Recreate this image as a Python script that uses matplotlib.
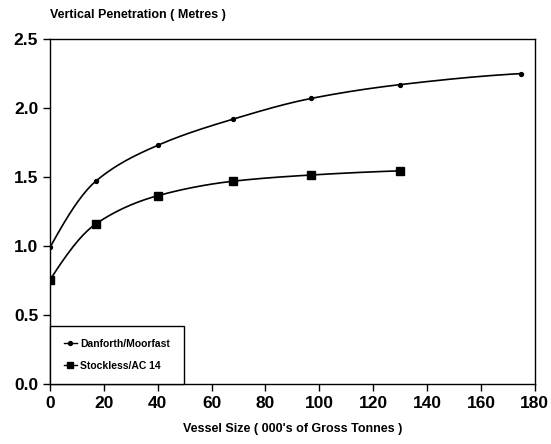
import numpy as np
import matplotlib
matplotlib.use("Agg")
import matplotlib.pyplot as plt

plt.rcParams['font.family'] = ['Liberation Sans', 'DejaVu Sans']
plt.rcParams['font.weight'] = 'bold'

# Données
taille_danforth = [0, 17, 40, 68, 97, 130, 175]
penetration_danforth = [0.99, 1.47, 1.73, 1.92, 2.07, 2.17, 2.25]

taille_stockless = [0, 17, 40, 68, 97, 130]
penetration_stockless = [0.755, 1.16, 1.365, 1.47, 1.515, 1.545]

x_ticks = [0, 20, 40, 60, 80, 100, 120, 140, 160, 180]
y_ticks = [0.0, 0.5, 1.0, 1.5, 2.0, 2.5]


def courbe_lisse(x, y, n=200):
    """Tracé lissé (PCHIP) entre les points mesurés, pour le rendu seulement."""
    x = np.asarray(x, float)
    y = np.asarray(y, float)
    h = np.diff(x)
    d = np.diff(y) / h
    m = np.zeros_like(y)
    for k in range(1, len(x) - 1):
        if d[k - 1] * d[k] > 0:
            w1 = 2 * h[k] + h[k - 1]
            w2 = h[k] + 2 * h[k - 1]
            m[k] = (w1 + w2) / (w1 / d[k - 1] + w2 / d[k])
    m[0] = ((2 * h[0] + h[1]) * d[0] - h[0] * d[1]) / (h[0] + h[1])
    if m[0] * d[0] <= 0:
        m[0] = 0
    elif abs(m[0]) > 3 * abs(d[0]):
        m[0] = 3 * d[0]
    m[-1] = ((2 * h[-1] + h[-2]) * d[-1] - h[-1] * d[-2]) / (h[-1] + h[-2])
    if m[-1] * d[-1] <= 0:
        m[-1] = 0
    xs = np.linspace(x[0], x[-1], n)
    idx = np.clip(np.searchsorted(x, xs) - 1, 0, len(x) - 2)
    t = (xs - x[idx]) / h[idx]
    h00 = 2 * t**3 - 3 * t**2 + 1
    h10 = t**3 - 2 * t**2 + t
    h01 = -2 * t**3 + 3 * t**2
    h11 = t**3 - t**2
    ys = h00 * y[idx] + h10 * h[idx] * m[idx] + h01 * y[idx + 1] + h11 * h[idx] * m[idx + 1]
    return xs, ys


fig = plt.figure(figsize=(5.51, 4.44), dpi=100)
ax = fig.add_axes([0.0907, 0.135, 0.880, 0.777])

xs, ys = courbe_lisse(taille_danforth, penetration_danforth)
ax.plot(xs, ys, color='black', lw=1.2)
ax.plot(taille_danforth, penetration_danforth, ls='none', marker='o', ms=2.8, color='black')
ax.plot([], [], color='black', lw=1.0, marker='o', ms=2.8, label='Danforth/Moorfast')

xs, ys = courbe_lisse(taille_stockless, penetration_stockless)
ax.plot(xs, ys, color='black', lw=1.2)
ax.plot(taille_stockless, penetration_stockless, ls='none', marker='s', ms=6, color='black')
ax.plot([], [], color='black', lw=1.0, marker='s', ms=5, label='Stockless/AC 14')

ax.set_xlim(0, 180)
ax.set_ylim(0, 2.5)
ax.set_xticks(x_ticks)
ax.set_yticks(y_ticks)
ax.set_yticklabels(['{:.1f}'.format(v) for v in y_ticks])
ax.tick_params(direction='out', length=5, width=1, labelsize=12.5)
for s in ax.spines.values():
    s.set_linewidth(1.0)

ax.set_xlabel("Vessel Size ( 000's of Gross Tonnes )", fontsize=9, fontweight='bold', labelpad=9)
fig.text(0.0907, 0.953, "Vertical Penetration ( Metres )", fontsize=9, fontweight='bold',
         ha='left', va='bottom')

leg = ax.legend(loc='lower left', bbox_to_anchor=(0, 0), borderaxespad=0, fancybox=False,
                edgecolor='black', framealpha=1, prop={'size': 7.5, 'weight': 'bold'},
                handlelength=1.3, handletextpad=0.3, borderpad=1.3, labelspacing=1.1)
leg.get_frame().set_linewidth(1.0)

fig.savefig('out.png', dpi=100)
